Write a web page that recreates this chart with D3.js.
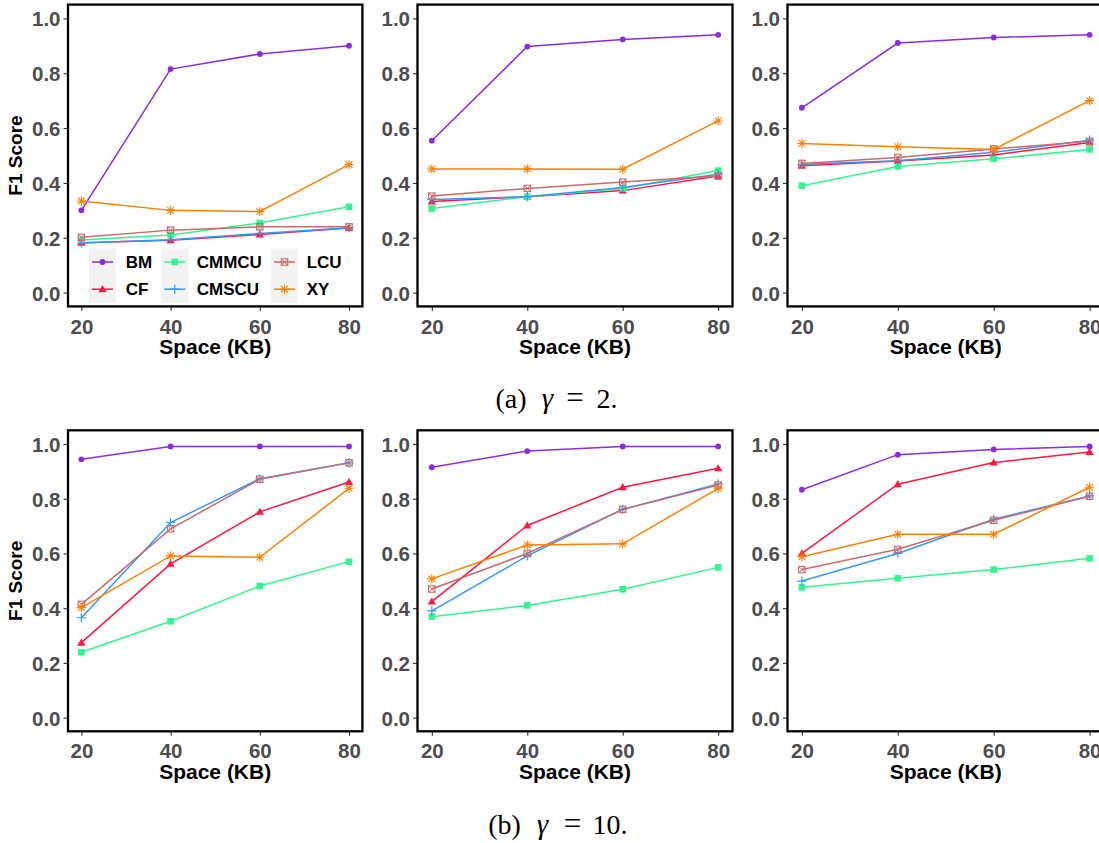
<!DOCTYPE html>
<html>
<head>
<meta charset="utf-8">
<script src="https://cdn.jsdelivr.net/npm/d3@7"></script>
<style>
  html, body { margin: 0; padding: 0; background: #fff; overflow: hidden; }
  svg { display: block; }
</style>
</head>
<body>
<svg id="fig" width="1099" height="843"></svg>
<script>
// ---- data -------------------------------------------------------------
const spaces = [20, 40, 60, 80];                       // x categories (KB)
const methods = ["BM", "CF", "CMMCU", "CMSCU", "LCU", "XY"];
const yTicks = [0, 0.2, 0.4, 0.6, 0.8, 1.0];
const xTicks = [20, 40, 60, 80];

// F1 scores, one row per method (order of `methods`), one column per space
const gamma2Left = [
  [0.300, 0.815, 0.870, 0.900],
  [0.182, 0.191, 0.212, 0.236],
  [0.192, 0.210, 0.254, 0.313],
  [0.181, 0.193, 0.216, 0.237],
  [0.202, 0.228, 0.240, 0.240],
  [0.334, 0.300, 0.296, 0.467]
];
const gamma2Mid = [
  [0.554, 0.897, 0.923, 0.940],
  [0.332, 0.350, 0.372, 0.425],
  [0.307, 0.350, 0.380, 0.445],
  [0.340, 0.350, 0.383, 0.432],
  [0.352, 0.380, 0.403, 0.425],
  [0.451, 0.451, 0.450, 0.626]
];
const gamma2Right = [
  [0.674, 0.910, 0.930, 0.940],
  [0.463, 0.480, 0.502, 0.547],
  [0.390, 0.460, 0.488, 0.522],
  [0.468, 0.481, 0.512, 0.556],
  [0.471, 0.493, 0.524, 0.552],
  [0.544, 0.532, 0.522, 0.700]
];
const gamma10Left = [
  [0.944, 0.991, 0.991, 0.991],
  [0.274, 0.562, 0.752, 0.861],
  [0.239, 0.352, 0.481, 0.570],
  [0.365, 0.713, 0.873, 0.931],
  [0.414, 0.690, 0.871, 0.931],
  [0.402, 0.591, 0.586, 0.838]
];
const gamma10Mid = [
  [0.915, 0.974, 0.991, 0.991],
  [0.424, 0.702, 0.842, 0.911],
  [0.369, 0.410, 0.469, 0.549],
  [0.390, 0.591, 0.761, 0.854],
  [0.470, 0.600, 0.761, 0.850],
  [0.507, 0.631, 0.635, 0.838]
];
const gamma10Right = [
  [0.833, 0.961, 0.980, 0.991],
  [0.600, 0.853, 0.932, 0.971],
  [0.476, 0.509, 0.541, 0.582],
  [0.499, 0.600, 0.725, 0.810],
  [0.541, 0.615, 0.721, 0.809],
  [0.588, 0.670, 0.670, 0.842]
];

// ---- styling ----------------------------------------------------------
const colors = {
  BM: "#8A2BE2", CF: "#FF1744", CMMCU: "#33F58F",
  CMSCU: "#3399FF", LCU: "#C86B6B", XY: "#FF8000"
};
const shapes = {
  BM: "circle", CF: "triangle", CMMCU: "square",
  CMSCU: "plus", LCU: "squarecross", XY: "asterisk"
};

// panel placement: columns and rows of the 2x3 grid
const cols = [[68, 362.4], [417.5, 732.5], [787.5, 1104]];
const rows = [[4.6, 306.4], [430.3, 731.3]];
const panels = [
  { data: gamma2Left,   col: 0, row: 0, yTitle: true,  legend: true },
  { data: gamma2Mid,    col: 1, row: 0 },
  { data: gamma2Right,  col: 2, row: 0 },
  { data: gamma10Left,  col: 0, row: 1, yTitle: true },
  { data: gamma10Mid,   col: 1, row: 1 },
  { data: gamma10Right, col: 2, row: 1 }
];

const sans = "'Liberation Sans', Arial, Helvetica, sans-serif";
const svg = d3.select("#fig");

function drawMarker(g, shape, color, cx, cy) {
  const m = g.append("g").attr("transform", `translate(${cx},${cy})`);
  if (shape === "circle") {
    m.append("circle").attr("r", 2.9).attr("fill", color);
  } else if (shape === "triangle") {
    m.append("path").attr("d", d3.symbol(d3.symbolTriangle, 30)()).attr("fill", color)
      .attr("transform", "translate(0,0.6)");
  } else if (shape === "square") {
    m.append("rect").attr("x", -3.3).attr("y", -3.3).attr("width", 6.6).attr("height", 6.6)
      .attr("fill", color);
  } else if (shape === "plus") {
    m.append("path").attr("d", "M-4.6,0H4.6M0,-4.6V4.6")
      .attr("stroke", color).attr("stroke-width", 1.2).attr("fill", "none");
  } else if (shape === "squarecross") {
    m.append("rect").attr("x", -3.2).attr("y", -3.2).attr("width", 6.4).attr("height", 6.4)
      .attr("stroke", color).attr("stroke-width", 1.1).attr("fill", "none");
    m.append("path").attr("d", "M-3.2,-3.2L3.2,3.2M-3.2,3.2L3.2,-3.2")
      .attr("stroke", color).attr("stroke-width", 1.0).attr("fill", "none");
  } else if (shape === "asterisk") {
    m.append("path")
      .attr("d", "M-4.6,0H4.6M0,-4.6V4.6M-3.3,-3.3L3.3,3.3M-3.3,3.3L3.3,-3.3")
      .attr("stroke", color).attr("stroke-width", 1.1).attr("fill", "none");
  }
}

panels.forEach(p => {
  const [x0, x1] = cols[p.col];
  const [y0, y1] = rows[p.row];
  const x = d3.scaleLinear().domain([17, 83]).range([x0, x1]);
  const y = d3.scaleLinear().domain([-0.05, 1.05]).range([y1, y0]);
  const g = svg.append("g");

  // axes
  const yAxis = g.append("g").attr("transform", `translate(${x0},0)`)
    .call(d3.axisLeft(y).tickValues(yTicks).tickFormat(d3.format(".1f"))
      .tickSize(4.5).tickPadding(3));
  const xAxis = g.append("g").attr("transform", `translate(0,${y1})`)
    .call(d3.axisBottom(x).tickValues(xTicks).tickSize(4.5).tickPadding(3));
  [yAxis, xAxis].forEach(a => {
    a.select(".domain").remove();
    a.selectAll(".tick line").attr("stroke", "#333").attr("stroke-width", 1.1);
    a.selectAll(".tick text").attr("fill", "#4D4D4D").attr("font-family", sans)
      .attr("font-weight", "bold").attr("font-size", "20.5px");
  });
  xAxis.selectAll(".tick text").attr("dy", "0.96em");
  yAxis.selectAll(".tick text").attr("dy", "0.36em");

  // axis titles
  g.append("text").attr("x", (x0 + x1) / 2).attr("y", y1 + 48)
    .attr("text-anchor", "middle").attr("font-family", sans).attr("font-weight", "bold")
    .attr("font-size", "21px").attr("fill", "#000").text("Space (KB)");
  if (p.yTitle) {
    g.append("text")
      .attr("transform", `translate(${x0 - 46},${(y0 + y1) / 2}) rotate(-90)`)
      .attr("text-anchor", "middle").attr("font-family", sans).attr("font-weight", "bold")
      .attr("font-size", "19px").attr("fill", "#000").text("F1 Score");
  }

  // lines
  const line = d3.line().x((d, i) => x(spaces[i])).y(d => y(d));
  methods.forEach((m, k) => {
    g.append("path").datum(p.data[k]).attr("d", line)
      .attr("fill", "none").attr("stroke", colors[m]).attr("stroke-width", 1.5);
  });
  // points
  methods.forEach((m, k) => {
    p.data[k].forEach((v, i) => drawMarker(g, shapes[m], colors[m], x(spaces[i]), y(v)));
  });

  // legend (inside the first panel)
  if (p.legend) {
    const legCols = [[89, 125.7], [161.3, 196.7], [271, 306.7]];
    const legTop = 248.4, rowH = 27.2, keyW = 27;
    methods.forEach((m, k) => {
      const c = Math.floor(k / 2), r = k % 2;
      const [kx, tx] = legCols[c];
      const cy = legTop + rowH * r + rowH / 2;
      g.append("rect").attr("x", kx).attr("y", legTop + rowH * r)
        .attr("width", keyW).attr("height", rowH).attr("fill", "#F2F2F2");
      g.append("line").attr("x1", kx + 3).attr("x2", kx + keyW - 3)
        .attr("y1", cy).attr("y2", cy).attr("stroke", colors[m]).attr("stroke-width", 1.5);
      drawMarker(g, shapes[m], colors[m], kx + keyW / 2, cy);
      g.append("text").attr("x", tx).attr("y", cy + 6.2).attr("font-family", sans)
        .attr("font-weight", "bold").attr("font-size", "17px").attr("fill", "#000").text(m);
    });
  }

  // panel border
  g.append("rect").attr("x", x0).attr("y", y0).attr("width", x1 - x0).attr("height", y1 - y0)
    .attr("fill", "none").attr("stroke", "#000").attr("stroke-width", 2.3);
});

// sub-figure captions: each piece centred on its own slot
const serif = "'Liberation Serif', 'Times New Roman', serif";
function caption(parts, baseline) {
  const t = svg.append("text").attr("y", baseline).attr("font-family", serif)
    .attr("font-size", "28px").attr("fill", "#000").attr("text-anchor", "middle");
  parts.forEach(([str, px, italic, size]) => {
    const s = t.append("tspan").attr("x", px).attr("font-style", italic ? "italic" : "normal")
      .text(str);
    if (size) s.attr("font-size", size);
  });
}
caption([["(a)", 511, false], ["γ", 547.5, true, "29px"], ["=", 575, false, "31px"],
         ["2.", 607, false]], 408);
caption([["(b)", 504.5, false], ["γ", 542.5, true, "29px"], ["=", 572.5, false, "31px"],
         ["10.", 610, false]], 834);
</script>
</body>
</html>
